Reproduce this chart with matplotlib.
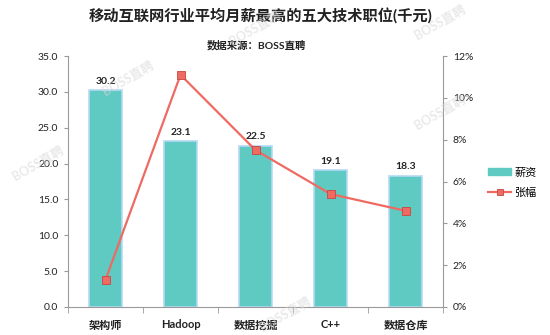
import matplotlib
matplotlib.use("Agg")
import matplotlib.pyplot as plt
from matplotlib.lines import Line2D
from matplotlib.patches import Patch
import numpy as np

plt.rcParams['font.family'] = ['Lato', 'Noto Sans CJK SC', 'DejaVu Sans']

categories = ['架构师', 'Hadoop', '数据挖掘', 'C++', '数据仓库']
salary = [30.2, 23.1, 22.5, 19.1, 18.3]
growth = [1.3, 11.1, 7.5, 5.4, 4.6]
title = '移动互联网行业平均月薪最高的五大技术职位(千元)'
subtitle = '数据来源：BOSS直聘'
series_names = ['薪资', '张幅']

bar_color = '#5ECAC1'
bar_edge = '#B5D9F5'
line_color = '#EE6A62'
marker_edge = '#C9463F'
spine_color = '#9A9A9A'
text_color = '#222222'

fig = plt.figure(figsize=(5.5, 3.35), dpi=100)
ax = fig.add_axes([68/550, 28/335, 375/550, 251/335])
x = np.arange(len(categories))
ax.bar(x, salary, width=0.43, color=bar_color, edgecolor=bar_edge, linewidth=1.2, zorder=2)
for xi, v in zip(x, salary):
    ax.text(xi, v + 0.6, f'{v:.1f}', ha='center', va='bottom', fontsize=7.5,
            color=text_color, fontweight='bold')
ax.set_xlim(-0.5, len(categories) - 0.5)
ax.set_ylim(0, 35)
ax.set_yticks(np.arange(0, 35.1, 5))
ax.set_yticklabels([f'{v:.1f}' for v in np.arange(0, 35.1, 5)], fontsize=7.5, color=text_color)
ax.set_xticks(x)
ax.set_xticklabels(categories, fontsize=8, fontweight='bold', color=text_color)
ax.set_xticks(np.arange(-0.5, len(categories), 1), minor=True)
ax.tick_params(axis='x', which='major', length=0, pad=9)
ax.tick_params(axis='x', which='minor', length=4, color=spine_color, direction='out')
ax.tick_params(axis='y', length=3, color=spine_color, direction='out', pad=4)
for s in ['top', 'right']:
    ax.spines[s].set_visible(False)
for s in ['left', 'bottom']:
    ax.spines[s].set_color(spine_color)
    ax.spines[s].set_linewidth(0.8)

ax2 = ax.twinx()
ax2.plot(x, growth, color=line_color, linewidth=1.6, marker='s', markersize=5.5,
         markerfacecolor=line_color, markeredgecolor=marker_edge, markeredgewidth=0.6, zorder=3)
ax2.set_ylim(0, 12)
ax2.set_yticks(np.arange(0, 12.1, 2))
ax2.set_yticklabels([f'{int(v)}%' for v in np.arange(0, 12.1, 2)], fontsize=7.5, color=text_color)
ax2.tick_params(axis='y', length=3, color=spine_color, direction='out', pad=4)
for s in ['top', 'left', 'bottom']:
    ax2.spines[s].set_visible(False)
ax2.spines['right'].set_color(spine_color)
ax2.spines['right'].set_linewidth(0.8)

handles = [Patch(facecolor=bar_color, edgecolor=bar_color),
           Line2D([0], [0], color=line_color, linewidth=1.6, marker='s', markersize=5,
                  markerfacecolor=line_color, markeredgecolor=marker_edge, markeredgewidth=0.6)]
fig.legend(handles, series_names, loc='center left', bbox_to_anchor=(484/550, 1 - 182/335),
           frameon=False, fontsize=8, handlelength=2.0, handleheight=0.6,
           handletextpad=0.3, labelspacing=0.8, borderaxespad=0)

fig.text(261/550, 1 - 17/335, title, ha='center', va='center', fontsize=11,
         fontweight='bold', color=text_color)
fig.text(256/550, 1 - 45/335, subtitle, ha='center', va='center', fontsize=7.5,
         fontweight='bold', color=text_color)

wm = [(255, 28), (440, 22), (38, 163), (128, 78), (440, 112), (285, 314)]
for wx, wy in wm:
    fig.text(wx/550, 1 - wy/335, 'BOSS直聘', ha='center', va='center', fontsize=9,
             fontweight='bold', color='#D8D8D8', alpha=0.55, rotation=30, zorder=10)

fig.savefig('out.png', dpi=100, facecolor='white')
